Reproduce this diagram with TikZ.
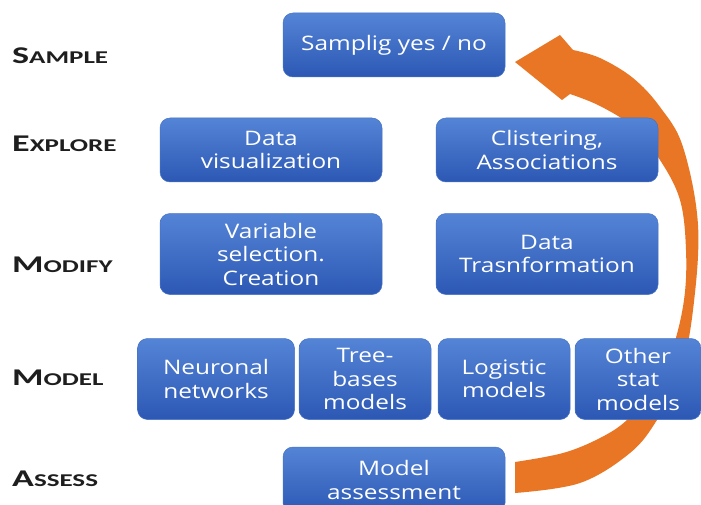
\documentclass[tikz,border=0pt]{standalone}
\usepackage{fontspec}
\setmainfont[FakeStretch=1.22]{Open Sans}
\newfontfamily\lblfont[FakeStretch=1.5]{Carlito}
\definecolor{boxtop}{RGB}{84,132,214}
\definecolor{boxbot}{RGB}{44,88,180}
\definecolor{boxedge}{RGB}{70,115,200}
\definecolor{arrowc}{RGB}{232,118,36}
\definecolor{lblc}{RGB}{30,30,30}
\tikzset{
  box/.style={rectangle, rounded corners=10pt, top color=boxtop, bottom color=boxbot,
    draw=boxedge, line width=0.5pt, text=white, align=center,
    font=\fontsize{20}{23.5}\selectfont, inner sep=0pt},
  stage/.style={anchor=base west, text=lblc, inner sep=0pt, font=\lblfont\bfseries},
}
\newcommand{\BigC}[1]{{\fontsize{24}{24}\selectfont #1}}
\newcommand{\SmC}[1]{{\fontsize{18}{18}\selectfont #1}}
\begin{document}
\begin{tikzpicture}[x=1pt,y=-1pt]
\useasboundingbox[fill=white] (0,0) rectangle (701,505);

% labels
\node[stage] (lS) at (12,64) {\BigC{S}\SmC{AMPLE}};
\node[stage] (lE) at (12,152) {\BigC{E}\SmC{XPLORE}};
\node[stage] (lM) at (12,272) {\BigC{M}\SmC{ODIFY}};
\node[stage] (lMo) at (12,385) {\BigC{M}\SmC{ODEL}};
\node[stage] (lA) at (12,486) {\BigC{A}\SmC{SSESS}};

% curved orange arrow (behind boxes)
\fill[arrowc] plot[smooth, tension=0.6] coordinates {(515,493) (580,483) (630,453) (657,420)
    (680,375) (693,310) (698,225) (683,147) (660,107) (633,78) (600,58) (573,50)}
  -- (560,35) -- (515,62) -- (562,100)
  -- plot[smooth, tension=0.6] coordinates {(570,94) (600,106) (633,127) (660,160) (680,200)
    (686,250) (684,300) (672,350) (652,390) (627,420) (600,438) (563,453) (515,462)}
  -- cycle;

% boxes
\node[box, minimum width=222, minimum height=64] (samp) at (394,45) {Samplig yes / no};
\node[box, minimum width=222, minimum height=64] (dviz) at (271,150) {Data\\visualization};
\node[box, minimum width=222, minimum height=64] (clus) at (547,150) {Clistering,\\Associations};
\node[box, minimum width=222, minimum height=81] (vsel) at (271,254) {Variable\\selection.\\Creation};
\node[box, minimum width=222, minimum height=81] (dtra) at (547,254) {Data\\Trasnformation};
\node[box, minimum width=157, minimum height=81] (neur) at (216,379) {Neuronal\\networks};
\node[box, minimum width=132, minimum height=81] (tree) at (365,379) {Tree-\\bases\\models};
\node[box, minimum width=132, minimum height=81] (logi) at (504,379) {Logistic\\models};
\node[box, minimum width=126, minimum height=81] (othr) at (638,379) {Other\\stat\\models};
\node[box, minimum width=222, minimum height=66] (mass) at (394,480) {Model\\assessment};
\end{tikzpicture}
\end{document}
